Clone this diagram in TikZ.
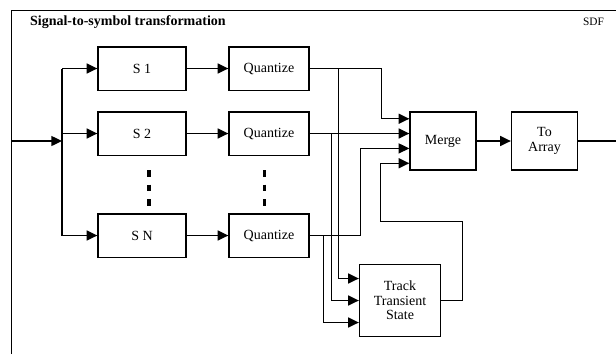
\documentclass[tikz,border=0pt]{standalone}
\usepackage{fontspec}
\setmainfont{Liberation Serif}
\usetikzlibrary{arrows.meta,calc}
\tikzset{
  blk/.style={draw,line width=1pt,inner sep=0pt,align=center,font=\fontsize{10.5}{10.8}\selectfont},
  arr/.style={-{Triangle[length=8pt,width=7.5pt]}},
  vdots/.style={line width=2.5pt,dash pattern=on 4.9pt off 6pt}
}
\begin{document}
\begin{tikzpicture}[x=0.75pt,y=-0.75pt,line width=1pt]
  \useasboundingbox (0,0) rectangle (616,354);
  \draw (11.5,354) -- (11.5,10.5) -- (616,10.5);
  \node[anchor=base west,font=\fontsize{10.5}{12}\selectfont\bfseries] (title) at (25,25) {Signal-to-symbol transformation};
  \node[anchor=base east,font=\fontsize{8.5}{10}\selectfont] (sdf) at (609,25) {SDF};

  \node[blk,minimum width=66pt,minimum height=32.5pt] (s1) at (142,68.5) {S 1};
  \node[blk,minimum width=66pt,minimum height=32.5pt] (s2) at (142,133.5) {S 2};
  \node[blk,minimum width=66pt,minimum height=32.5pt] (sN) at (142,235.5) {S N};
  \node[blk,minimum width=60pt,minimum height=32.5pt] (q1) at (269,68.5) {Quantize};
  \node[blk,minimum width=60pt,minimum height=32.5pt] (q2) at (269,133.5) {Quantize};
  \node[blk,minimum width=60pt,minimum height=32.5pt] (qN) at (269,235.5) {Quantize};
  \node[blk,minimum width=49.5pt,minimum height=43.5pt] (merge) at (443,141) {Merge};
  \node[blk,minimum width=49.5pt,minimum height=43.5pt] (toarr) at (544.5,141) {To\\Array};
  \node[blk,minimum width=60.75pt,minimum height=54pt] (track) at (400,300.5) {Track\\Transient\\State};

  \draw[vdots] (149,170) -- (149,206);
  \draw[vdots] (264.7,170) -- (264.7,206);

  \foreach \i/\f in {1/.125,2/.375,3/.625,4/.875}
    \coordinate (m\i) at ($(merge.north west)!\f!(merge.south west)$);
  \foreach \i/\f in {1/.2,2/.5,3/.8}
    \coordinate (t\i) at ($(track.north west)!\f!(track.south west)$);

  \coordinate (in) at (11.5,141);
  \coordinate (split) at (62,141);
  \coordinate (out) at (616,141);
  \draw[arr] (in) -- (split);
  \draw (split |- s1) -- (split |- sN);
  \foreach \n in {s1,s2,sN} \draw[arr] (split |- \n) -- (\n);
  \draw[arr] (s1) -- (q1);
  \draw[arr] (s2) -- (q2);
  \draw[arr] (sN) -- (qN);

  \draw[arr] (q1.east) -- ++(72,0) |- (m1);
  \draw[arr] (q2.east) -- (q2.east -| merge.west);
  \draw[arr] (qN.east) -- ++(51,0) |- (m3);
  \draw[arr] (track.east) -- ++(21,0) |- ($(m4)+(-29,58)$) |- (m4);
  \draw[arr] ($(q1.east)+(29,0)$) |- (t1);
  \draw[arr] ($(q2.east)+(22,0)$) |- (t2);
  \draw[arr] ($(qN.east)+(14,0)$) |- (t3);

  \draw[arr] (merge) -- (toarr);
  \draw (toarr) -- (out);
\end{tikzpicture}
\end{document}
